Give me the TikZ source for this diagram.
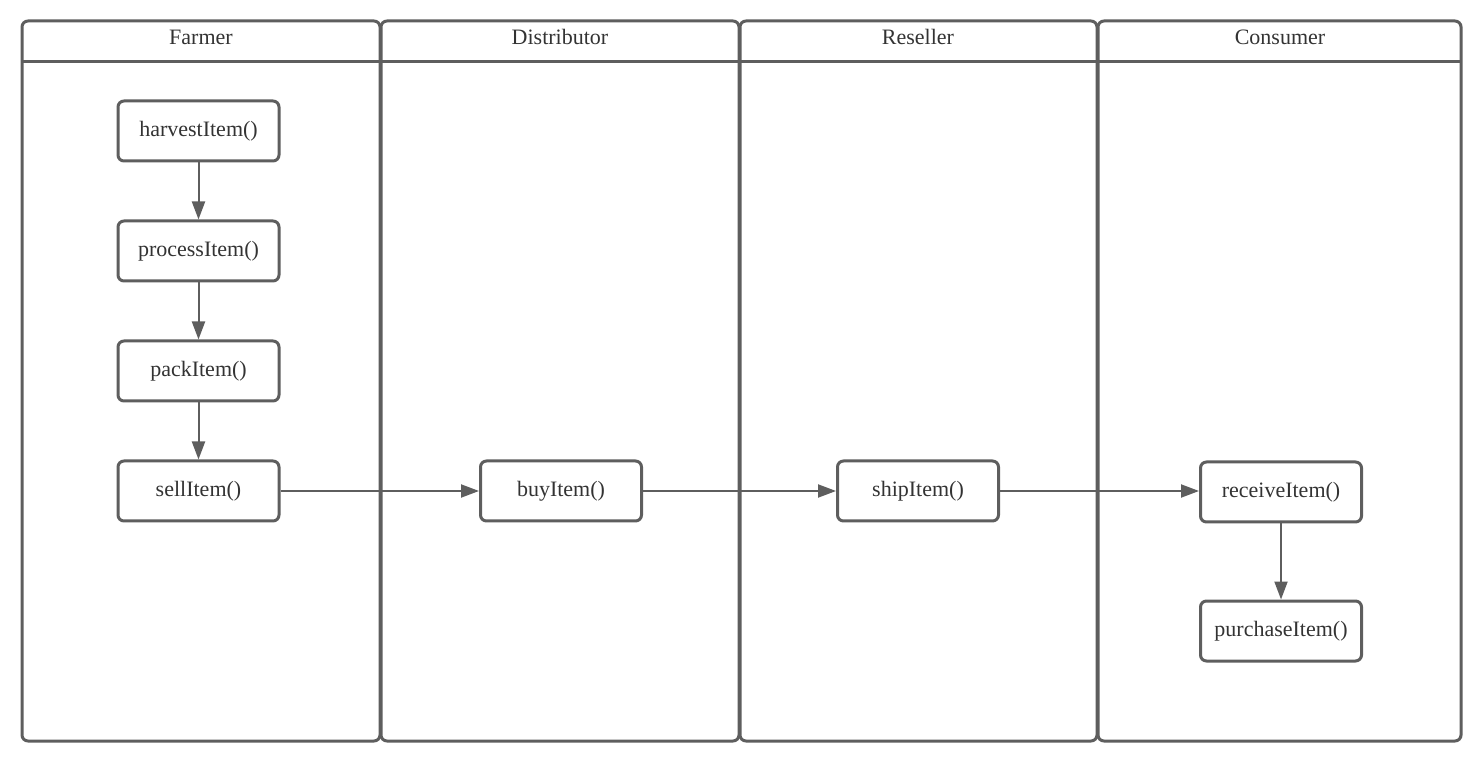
\documentclass[tikz,border=0pt]{standalone}
\usepackage{fontspec}
\setmainfont{Liberation Serif}
\usetikzlibrary{arrows.meta}
\definecolor{ln}{HTML}{5E5E5E}
\definecolor{tx}{HTML}{333333}
\begin{document}
\begin{tikzpicture}[x=0.5pt,y=-0.5pt,
  lane/.style={draw=ln,line width=1.5pt,rounded corners=3pt},
  act/.style={draw=ln,line width=1.5pt,rounded corners=3pt,minimum width=80.5pt,minimum height=30pt,inner sep=0pt,text=tx,font=\fontsize{11}{13}\selectfont},
  hdr/.style={text=tx,font=\fontsize{11}{13}\selectfont,inner sep=0pt},
  flow/.style={draw=ln,line width=1pt,-{Triangle[length=9pt,width=6.5pt]}}]
\useasboundingbox (0,0) rectangle (1481,763);
% lanes
\draw[lane] (22,21) rectangle (380,741);
\draw[lane] (381,21) rectangle (739,741);
\draw[lane] (740,21) rectangle (1097,741);
\draw[lane] (1098,21) rectangle (1461,741);
\draw[ln,line width=1.5pt] (22,62) -- (1461,62);
\node[hdr] (hfarmer) at (201,37) {Farmer};
\node[hdr] (hdist) at (560,37) {Distributor};
\node[hdr] (hres) at (918,37) {Reseller};
\node[hdr] (hcons) at (1280,37) {Consumer};
% activities
\node[act] (harvest) at (198.5,131) {harvestItem()};
\node[act] (process) at (198.5,251) {processItem()};
\node[act] (pack) at (198.5,371) {packItem()};
\node[act] (sell) at (198.5,491) {sellItem()};
\node[act] (buy) at (561,491) {buyItem()};
\node[act] (ship) at (918,491) {shipItem()};
\node[act] (receive) at (1281,492) {receiveItem()};
\node[act] (purchase) at (1281,631) {purchaseItem()};
% flows
\draw[flow] (harvest) -- (process);
\draw[flow] (process) -- (pack);
\draw[flow] (pack) -- (sell);
\draw[flow] (sell) -- (buy);
\draw[flow] (buy) -- (ship);
\draw[flow] (ship.east) -- (ship.east -| receive.west);
\draw[flow] (receive) -- (purchase);
\end{tikzpicture}
\end{document}
